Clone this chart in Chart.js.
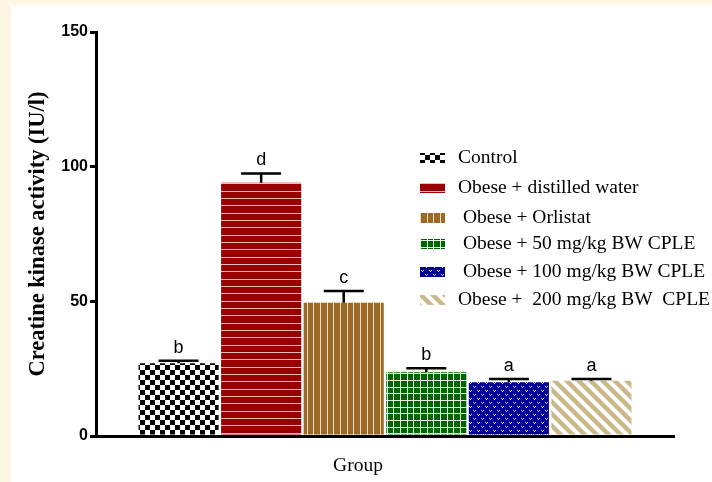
<!DOCTYPE html>
<html><head><meta charset="utf-8">
<script src="https://cdn.jsdelivr.net/npm/chart.js@4.4.1/dist/chart.umd.min.js"></script>
<style>html,body{margin:0;padding:0;background:#fff}#wrap{width:712px;height:482px;position:relative}</style>
</head><body><div id="wrap"><canvas id="c" width="712" height="482"></canvas></div>
<script>
// ---- data ----
const categories = ["Control", "Obese + distilled water", " Obese + Orlistat", " Obese + 50 mg/kg BW CPLE", " Obese + 100 mg/kg BW CPLE", "Obese +  200 mg/kg BW  CPLE"];
const values = [27, 94, 49.5, 23.7, 20, 20.5];
const errors = [0.9, 3.5, 4.3, 1.5, 1.2, 0.7];
const letters = ["b", "d", "c", "b", "a", "a"];
const yTicks = [0, 50, 100, 150];
const xTitle = "Group";
const yTitle = "Creatine kinase activity (IU/l)";

const SERIF = '"Liberation Serif", "Times New Roman", serif';
const SANS = '"Liberation Sans", Arial, sans-serif';

// ---- patterns ----
function mk(w, h, draw) {
  const c = document.createElement('canvas'); c.width = w; c.height = h;
  const g = c.getContext('2d'); draw(g, w, h);
  return document.getElementById('c').getContext('2d').createPattern(c, 'repeat');
}
const patterns = [
  mk(10, 10, (g) => { g.fillStyle = '#fff'; g.fillRect(0,0,10,10); g.fillStyle = '#000'; g.fillRect(0,0,5,5); g.fillRect(5,5,5,5); }),
  mk(4, 22, (g) => { g.fillStyle = '#990000'; g.fillRect(0,0,4,22); g.fillStyle = '#e8bcbc'; [0,7,15].forEach(y => g.fillRect(0,y,4,1)); }),
  mk(20, 4, (g) => { g.fillStyle = '#9a6a26'; g.fillRect(0,0,20,4); g.fillStyle = '#eadcc4'; [0,7,13].forEach(x => g.fillRect(x,0,1,4)); }),
  mk(20, 20, (g) => { g.fillStyle = '#006400'; g.fillRect(0,0,20,20); g.fillStyle = '#e4efe4'; [0,7,13].forEach(v => { g.fillRect(v,0,1,20); g.fillRect(0,v,20,1); }); }),
  mk(8, 8, (g) => { g.fillStyle = '#000099'; g.fillRect(0,0,8,8); g.fillStyle = '#c8c8f0'; [[1,2],[2,3],[3,2],[5,6],[6,7],[7,6]].forEach(p => g.fillRect(p[0],p[1],1,1)); }),
  mk(12, 12, (g) => { g.fillStyle = '#c9b98a'; g.fillRect(0,0,12,12); g.strokeStyle = '#fff'; g.lineWidth = 4; for (let k=-1;k<=1;k++){ g.beginPath(); g.moveTo(k*12-2,-2); g.lineTo(k*12+14,14); g.stroke(); } })
];

const bgPlugin = {
  id: 'bg',
  beforeDraw(chart) {
    const ctx = chart.ctx; ctx.save();
    ctx.fillStyle = '#fdf7e4'; ctx.fillRect(0,0,chart.width,chart.height);
    ctx.fillStyle = '#ffffff'; ctx.fillRect(11,5,chart.width-11,chart.height-5);
    ctx.restore();
  }
};

const errPlugin = {
  id: 'err',
  afterDatasetsDraw(chart) {
    const ctx = chart.ctx, ys = chart.scales.y, meta = chart.getDatasetMeta(0);
    ctx.save();
    ctx.strokeStyle = '#000'; ctx.lineWidth = 2.5; ctx.fillStyle = '#000';
    ctx.font = '18px ' + SANS; ctx.textAlign = 'center'; ctx.textBaseline = 'alphabetic';
    meta.data.forEach((el, i) => {
      const yt = ys.getPixelForValue(values[i] + errors[i]);
      ctx.beginPath(); ctx.moveTo(el.x, el.y); ctx.lineTo(el.x, yt);
      ctx.moveTo(el.x - 20, yt); ctx.lineTo(el.x + 20, yt); ctx.stroke();
      ctx.fillText(letters[i], el.x, yt - 8);
    });
    ctx.restore();
  }
};

const legendPlugin = {
  id: 'customLegend',
  afterDraw(chart) {
    const ctx = chart.ctx; ctx.save();
    const rows = [158, 188, 218, 244, 272, 300];
    ctx.font = '19.5px ' + SERIF; ctx.textBaseline = 'middle'; ctx.textAlign = 'left'; 
    categories.forEach((lab, i) => {
      ctx.fillStyle = patterns[i]; ctx.fillRect(420, rows[i] - 5, 25, 10);
      ctx.fillStyle = '#000'; ctx.fillText(lab, 458, rows[i]);
    });
    ctx.font = '19.5px ' + SERIF; ctx.textAlign = 'center';
    ctx.fillText(xTitle, 358, 466);
    ctx.restore();
  }
};

new Chart(document.getElementById('c'), {
  type: 'bar',
  data: {
    datasets: [{
      data: values.map((v, i) => ({ x: i, y: v })),
      backgroundColor: patterns,
      borderWidth: 0,
      barPercentage: 0.97,
      categoryPercentage: 1
    }]
  },
  options: {
    responsive: false, devicePixelRatio: 1, animation: false,
    layout: { padding: { top: 32, right: 38, bottom: 0, left: 0 } },
    plugins: { legend: { display: false }, tooltip: { enabled: false } },
    scales: {
      x: {
        type: 'linear', min: -1, max: 6, offset: false,
        ticks: { display: false },
        grid: { display: false },
        border: { display: true, color: '#000', width: 3 },
        afterFit: s => { s.height = 46; }
      },
      y: {
        min: 0, max: 150,
        afterBuildTicks: s => { s.ticks = yTicks.map(v => ({ value: v })); },
        ticks: { color: '#000', font: { family: SANS, size: 16, weight: 'bold' }, padding: 2 },
        grid: { drawOnChartArea: false, drawTicks: true, tickLength: 6, lineWidth: 3, color: '#000' },
        border: { display: true, color: '#000', width: 3 },
        title: { display: true, text: yTitle, color: '#000', font: { family: SERIF, size: 22.5, weight: 'bold' }, padding: { top: 25, bottom: 0 } },
        afterFit: s => { s.width = 96; }
      }
    }
  },
  plugins: [bgPlugin, errPlugin, legendPlugin]
});
</script>
</body></html>
